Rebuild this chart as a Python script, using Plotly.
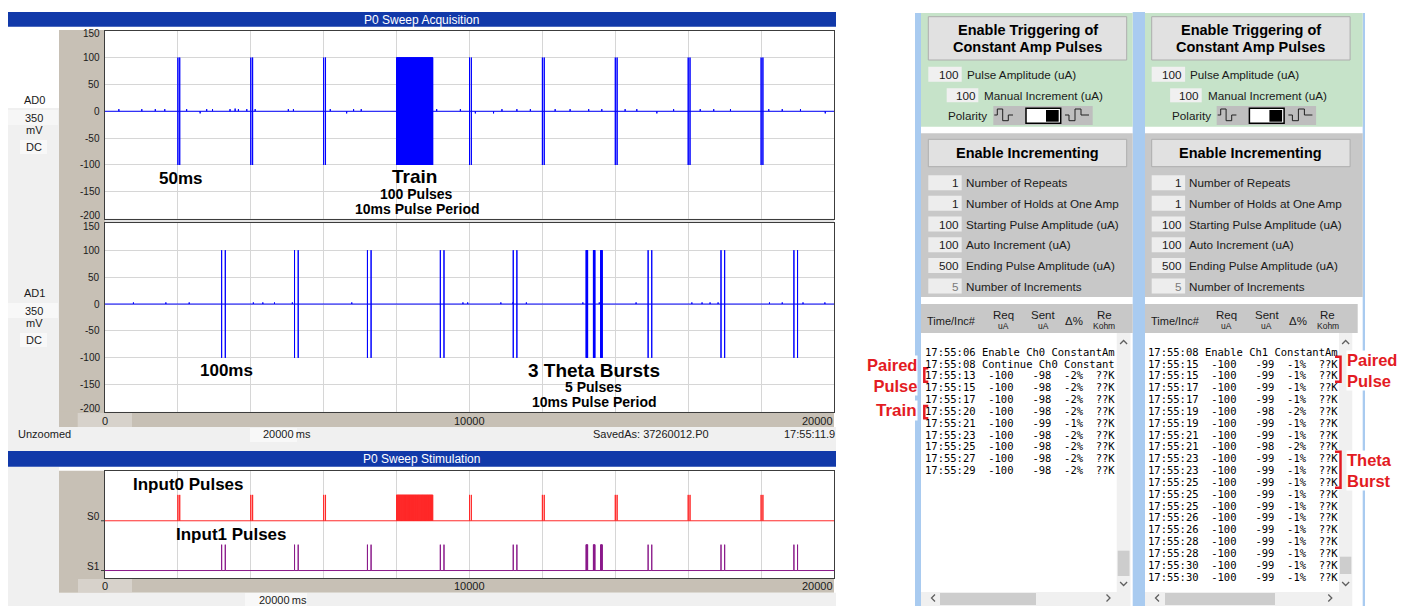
import plotly.graph_objects as go

W, H = 1414, 606
SANS = "Liberation Sans, Arial, sans-serif"
MONO = "DejaVu Sans Mono, monospace"

# ------------------------------------------------------------------
# Sweep timing (ms) and amplitudes (mV)
# ------------------------------------------------------------------
SWEEP_MS = 20000
grid_ms = list(range(0, SWEEP_MS + 1, 2000))
mv_ticks = [150, 100, 50, 0, -50, -100, -150, -200]
x_tick_vals = [0, 10000, 20000]
x_tick_text = ["0", "10000", "20000"]

pulse_peak = 100
pulse_trough = -100

# Input 0: paired pulses + one long train
ad0_pair_starts = [2000, 4000, 6000, 10000, 12000, 14000, 16000, 18000]
ad0_pair_gap = 50
ad0_train_start = 8000
ad0_train_pulses = 100
ad0_train_period = 10

# Input 1: paired pulses + theta bursts
ad1_pair_starts = [3200, 5200, 7200, 9200, 11200, 14900, 16900, 18900]
ad1_pair_gap = 100
ad1_theta_starts = [13200, 13400, 13600]
ad1_theta_pulses = 5
ad1_theta_period = 10

# small deflections on the AD0 / AD1 baselines
ad0_blip_t = [380, 1010, 1380, 1640, 2240, 2610, 2790, 2950, 3430, 3570, 3660,
              3890, 4120, 5030, 5170, 6180, 6630, 6820, 7030, 9100, 9750,
              10000, 10160, 10660, 10890, 11300, 11670, 12350, 12760, 13270,
              13630, 14270, 14590, 15140, 15600, 16330, 16700, 17160, 18210,
              18580, 19080, 19760]
ad0_blip_v = [4, 4, 4, 4, 4, -4, 4, 4, 4, 5, 4,
              4, 4, 4, 4, 4, -4, 4, 4, 4, 4,
              -50, -4, -4, 4, 4, 4, 4, 4, 4,
              4, 4, 4, -4, 4, 4, 4, 4, 4,
              4, 4, -4]
ad1_blip_t = [780, 1670, 2310, 4070, 4330, 4650, 5140, 6770, 9820, 9950,
              10860, 11190, 11560, 13110, 13560, 14570, 16100, 16380, 16600,
              16820, 18230, 18580, 19150, 19750]
ad1_blip_v = [3, 3, 3, 3, 3, 3, 3, 3, 3, 3,
              3, 3, 3, 3, 3, 3, 3, 3, 3,
              3, 3, 3, 3, 3]

# ------------------------------------------------------------------
# Stimulator settings / log entries for the two channels
# ------------------------------------------------------------------
pulse_amplitude_uA = [100, 100]
manual_increment_uA = [100, 100]
incr_labels = ["Number of Repeats", "Number of Holds at One Amp",
               "Starting Pulse Amplitude (uA)", "Auto Increment (uA)",
               "Ending Pulse Amplitude (uA)", "Number of Increments"]
incr_values = [[1, 1, 100, 100, 500, 5], [1, 1, 100, 100, 500, 5]]

ch0_messages = ["17:55:06 Enable Ch0 ConstantAm", "17:55:08 Continue Ch0 Constant"]
ch0_times = ["17:55:13", "17:55:15", "17:55:17", "17:55:20", "17:55:21",
             "17:55:23", "17:55:25", "17:55:27", "17:55:29"]
ch0_req = [-100, -100, -100, -100, -100, -100, -100, -100, -100]
ch0_sent = [-98, -98, -98, -98, -99, -98, -98, -98, -98]
ch0_delta = [-2, -2, -2, -2, -1, -2, -2, -2, -2]

ch1_messages = ["17:55:08 Enable Ch1 ConstantAm"]
ch1_times = ["17:55:15", "17:55:15", "17:55:17", "17:55:17", "17:55:19",
             "17:55:19", "17:55:21", "17:55:21", "17:55:23", "17:55:23",
             "17:55:25", "17:55:25", "17:55:25", "17:55:26", "17:55:26",
             "17:55:28", "17:55:28", "17:55:30", "17:55:30"]
ch1_req = [-100] * 19
ch1_sent = [-99, -99, -99, -99, -98, -99, -99, -98, -99, -99,
            -99, -99, -99, -99, -99, -99, -99, -99, -99]
ch1_delta = [-1, -1, -1, -1, -2, -1, -1, -2, -1, -1,
             -1, -1, -1, -1, -1, -1, -1, -1, -1]

# ------------------------------------------------------------------
# Colours
# ------------------------------------------------------------------
AD_BLUE = "#0000FF"
S0_RED = "#FF2A2A"
S1_PURPLE = "#8A1A8A"
GRID = "#D6D6D6"
FRAME = "#3C3C3C"
BEIGE = "#C7C0B5"
BEIGE_LIGHT = "#D7D2CB"
UI_GRAY = "#F0F0F0"
TITLE_BLUE = "#1139A9"
GREEN = "#C6E3C9"
PANEL_GRAY = "#C8C8C8"
BTN = "#E1E1E1"
BTN_EDGE = "#ADADAD"
FIELD = "#F0F0F0"
STRIP_BLUE = "#A9CBF0"
RED = "#E31B23"
TXT = "#1A1A1A"


def X(p):
    return p / W


def Y(p):
    return 1 - p / H


shapes = []
annotations = []


def box(x0, y0, x1, y1, fill, line=None, lw=1, layer="below"):
    shapes.append(dict(type="rect", xref="paper", yref="paper",
                       x0=X(x0), x1=X(x1), y0=Y(y1), y1=Y(y0),
                       fillcolor=fill, layer=layer,
                       line=dict(color=line if line else "rgba(0,0,0,0)",
                                 width=lw if line else 0)))


def poly(points, color, lw=1, layer="above"):
    path = "M " + " L ".join(f"{X(a):.6f},{Y(b):.6f}" for a, b in points)
    shapes.append(dict(type="path", xref="paper", yref="paper", path=path,
                       layer=layer, line=dict(color=color, width=lw)))


def label(x, y, text, size=11.5, color=TXT, anchor="center", bold=False,
          family=SANS, bg=None):
    annotations.append(dict(xref="paper", yref="paper", x=X(x), y=Y(y),
                            text=f"<b>{text}</b>" if bold else text,
                            showarrow=False, xanchor=anchor, yanchor="middle",
                            align=anchor if anchor != "center" else "center",
                            font=dict(size=size, color=color, family=family),
                            bgcolor=bg, borderpad=0))


# ------------------------------------------------------------------
# Traces built from the timing lists
# ------------------------------------------------------------------
def pulse_train(start, n, period):
    return [start + k * period for k in range(n)]


ad0_times = sorted(ad0_pair_starts + [s + ad0_pair_gap for s in ad0_pair_starts]
                   + pulse_train(ad0_train_start, ad0_train_pulses, ad0_train_period))
ad1_times = sorted(ad1_pair_starts + [s + ad1_pair_gap for s in ad1_pair_starts]
                   + [t for b in ad1_theta_starts
                      for t in pulse_train(b, ad1_theta_pulses, ad1_theta_period)])


def recording(times, blip_t, blip_v):
    events = [(t, (pulse_peak, pulse_trough)) for t in times]
    events += [(t, (v,)) for t, v in zip(blip_t, blip_v)]
    events.sort(key=lambda e: e[0])
    xs, ys = [0], [0]
    for t, vals in events:
        xs += [t] * (len(vals) + 2)
        ys += [0, *vals, 0]
    xs.append(SWEEP_MS)
    ys.append(0)
    return xs, ys


def stim_line(times, base, height):
    xs, ys = [0], [base]
    for t in times:
        xs += [t, t, t]
        ys += [base, base + height, base]
    xs.append(SWEEP_MS)
    ys.append(base)
    return xs, ys


fig = go.Figure()
ax, ay = recording(ad0_times, ad0_blip_t, ad0_blip_v)
fig.add_trace(go.Scatter(x=ax, y=ay, mode="lines", xaxis="x", yaxis="y",
                         line=dict(color=AD_BLUE, width=1, simplify=False),
                         hoverinfo="skip"))
bx, by = recording(ad1_times, ad1_blip_t, ad1_blip_v)
fig.add_trace(go.Scatter(x=bx, y=by, mode="lines", xaxis="x2", yaxis="y2",
                         line=dict(color=AD_BLUE, width=1, simplify=False),
                         hoverinfo="skip"))
sx, sy = stim_line(ad0_times, 1.0, 0.52)
fig.add_trace(go.Scatter(x=sx, y=sy, mode="lines", xaxis="x3", yaxis="y3",
                         line=dict(color=S0_RED, width=1, simplify=False),
                         hoverinfo="skip"))
tx, ty = stim_line(ad1_times, 0.0, 0.52)
fig.add_trace(go.Scatter(x=tx, y=ty, mode="lines", xaxis="x3", yaxis="y3",
                         line=dict(color=S1_PURPLE, width=1, simplify=False),
                         hoverinfo="skip"))

# ------------------------------------------------------------------
# Acquisition / stimulation window chrome
# ------------------------------------------------------------------
PL, PR = 105, 834          # plot area left / right (px)
box(8, 108, 59, 451, UI_GRAY)
box(8, 303, 58, 318, "#F8F8F8")
box(20, 333, 47, 347, "#F8F8F8")
box(8, 110, 58, 125, "#F6F6F6")
box(20, 140, 47, 154, "#F8F8F8")
box(59, 30, PL, 427, BEIGE)
box(59, 411.7, PR, 427, BEIGE)
box(77.7, 413, 132, 427, BEIGE_LIGHT)
box(8, 427, 836, 451, UI_GRAY)
box(250, 428, 297, 442, "#F8F8F8")
box(PL, 30.7, PR, 218.7, "white")
box(PL, 218.7, PR, 223.3, "#E2E2E2")
box(PL, 223.3, PR, 411.7, "white")
box(8, 12, 836, 26.7, TITLE_BLUE)
label(422, 19.5, "P0 Sweep Acquisition", 12, "white")

box(8, 467, 59, 606, UI_GRAY)
box(59, 470.7, PL, 592.7, BEIGE)
box(59, 578, PR, 592.7, BEIGE)
box(78, 579, 132, 592.7, BEIGE_LIGHT)
box(8, 592.7, 836, 606, UI_GRAY)
box(245, 593, 307, 606, "#F8F8F8")
box(PL, 471, PR, 578, "white")
box(8, 451, 836, 466.7, TITLE_BLUE)
label(422, 459, "P0 Sweep Stimulation", 12, "white")

for name, y0 in (("AD0", 100), ("AD1", 293.3)):
    label(34, y0, name, 11)
    label(34, y0 + 18, "350", 11)
    label(34, y0 + 30, "mV", 11)
    label(34, y0 + 46.5, "DC", 11)

label(17, 434.3, "Unzoomed", 11, anchor="left")
label(287, 434.3, "20000\u2009ms", 11)
label(651.3, 434.3, "SavedAs: 37260012.P0", 11)
label(835.5, 434.3, "17:55:11.9", 11, anchor="right")
label(283, 599.5, "20000\u2009ms", 11)

# mV tick labels on each recording axis (end labels kept inside the frame)
for yname in ("y", "y2"):
    for v in mv_ticks:
        shift = -3 if v == mv_ticks[0] else (3 if v == mv_ticks[-1] else 0)
        annotations.append(dict(xref="paper", yref=yname, x=X(101.5), y=v,
                                yshift=shift, text=str(v), showarrow=False,
                                xanchor="right", yanchor="middle", borderpad=0,
                                font=dict(size=10, color=TXT, family=SANS)))

# time tick labels placed on the axes' own scale
for axname, ypx in (("x2", 421), ("x3", 586.3)):
    for v, t in zip(x_tick_vals, x_tick_text):
        anchor = "right" if v == SWEEP_MS else "center"
        annotations.append(dict(xref=axname, yref="paper", x=v, y=Y(ypx),
                                text=t, showarrow=False, xanchor=anchor,
                                yanchor="middle", borderpad=0,
                                font=dict(size=11, color=TXT, family=SANS)))

# stimulation channel labels
for v, t in ((1.0, "S0"), (0.0, "S1")):
    annotations.append(dict(xref="paper", yref="y3", x=X(100.5), y=v, yshift=4,
                            text=t, showarrow=False, xanchor="right",
                            yanchor="middle", borderpad=0,
                            font=dict(size=10, color=TXT, family=SANS)))
    shapes.append(dict(type="line", xref="paper", yref="y3", x0=X(101), x1=X(PL),
                       y0=v, y1=v, line=dict(color=FRAME, width=1), layer="above"))

# chart captions built from the protocol values
label(180.7, 178.3, f"{ad0_pair_gap}ms", 17, "black", bold=True)
label(414, 176.7, "Train", 19, "black", bold=True)
label(416, 194, f"{ad0_train_pulses} Pulses", 14, "black", bold=True)
label(417, 209, f"{ad0_train_period}ms Pulse Period", 14, "black", bold=True)
label(226.2, 370.7, f"{ad1_pair_gap}ms", 17, "black", bold=True)
label(594, 370.7, f"{len(ad1_theta_starts)} Theta Bursts", 19, "black", bold=True)
label(593, 386.7, f"{ad1_theta_pulses} Pulses", 14, "black", bold=True)
label(594.2, 401.7, f"{ad1_theta_period}ms Pulse Period", 14, "black", bold=True)
label(188.3, 484.3, "Input0 Pulses", 17, "black", bold=True)
label(231.7, 534.3, "Input1 Pulses", 17, "black", bold=True)

# ------------------------------------------------------------------
# Stimulator control columns
# ------------------------------------------------------------------
box(915, 13, 921, 606, STRIP_BLUE)
box(1132.7, 12, 1145, 606, STRIP_BLUE)
box(1362.7, 13, 1365, 606, STRIP_BLUE)

col_dx = [0, 223.4]
col_x0 = [921, 1145]
col_x1 = [1132.7, 1362.7]
hdr_x1 = [1132.7, 1357.7]
vs_x = [(1116.7, 1130.5), (1339, 1352.3)]
vs_thumb = [(550.7, 576), (556.7, 574)]
hs_x0 = [921, 1145]
hs_thumb = [(940, 1036), (1165, 1275)]

logs = []
for msgs, times, req, sent, dl in ((ch0_messages, ch0_times, ch0_req, ch0_sent, ch0_delta),
                                   (ch1_messages, ch1_times, ch1_req, ch1_sent, ch1_delta)):
    rows = list(msgs)
    for t, r, s, d in zip(times, req, sent, dl):
        rows.append(f"{t}  {r:>4}   {s:>3}  {str(d) + '%':>3}  ??K")
    logs.append(rows)

for ci in range(2):
    dx = col_dx[ci]
    x0, x1 = col_x0[ci], col_x1[ci]
    box(x0, 13, x1, 126.7, GREEN)
    box(x0, 133.3, x1, 297, PANEL_GRAY)
    box(x0, 304, hdr_x1[ci], 333, PANEL_GRAY)

    # triggering block
    box(928.3 + dx, 16.7, 1126.7 + dx, 60, BTN, BTN_EDGE)
    label(1027.5 + dx, 30, "Enable Triggering of", 14.5, "black", bold=True)
    label(1027.5 + dx, 47, "Constant Amp Pulses", 14.5, "black", bold=True)
    box(928.3 + dx, 66.7, 961.7 + dx, 81.7, FIELD)
    label(960 + dx, 74, str(pulse_amplitude_uA[ci]), 11.7, anchor="right")
    label(966 + dx, 74, "Pulse Amplitude (uA)", 11.7, anchor="left")
    box(946.7 + dx, 88.3, 978.3 + dx, 102.3, FIELD)
    label(977 + dx, 95.3, str(manual_increment_uA[ci]), 11.7, anchor="right")
    label(983.3 + dx, 95.3, "Manual Increment (uA)", 11.7, anchor="left")
    label(947.3 + dx, 115.7, "Polarity", 11.7, anchor="left")

    # polarity switch
    box(993.3 + dx, 106, 1092.7 + dx, 125, "#BEBEBE")
    box(1026 + dx, 108.3, 1060.7 + dx, 123.3, "white", "black", 1.5)
    box(1046 + dx, 110, 1058.7 + dx, 121.7, "black")
    poly([(994.3 + dx, 115), (997.3 + dx, 115), (997.3 + dx, 109), (1002.7 + dx, 109),
          (1002.7 + dx, 120.7), (1008.3 + dx, 120.7), (1008.3 + dx, 115),
          (1013 + dx, 115)], "#202020", 1)
    poly([(1065 + dx, 115), (1069 + dx, 115), (1069 + dx, 120.7), (1075 + dx, 120.7),
          (1075 + dx, 109), (1081 + dx, 109), (1081 + dx, 115), (1089 + dx, 115)],
         "#202020", 1)

    # incrementing block
    box(928.3 + dx, 139.3, 1126.7 + dx, 166.7, BTN, BTN_EDGE)
    label(1027.5 + dx, 153, "Enable Incrementing", 14.5, "black", bold=True)
    for k, (v, name) in enumerate(zip(incr_values[ci], incr_labels)):
        yc = 182.7 + k * 20.67
        box(928.3 + dx, yc - 7.5, 961.7 + dx, yc + 7.5, "#EDEDED")
        last = k == len(incr_labels) - 1
        label(960 + dx, yc, str(v), 11.7, "#7A7A7A" if last else TXT, anchor="right")
        label(965 + dx, yc, name, 11.7, anchor="left")

    # log header
    label(951.7 + dx, 320.7, "Time/Inc#", 11)
    label(1003.3 + dx, 315, "Req", 11.5)
    label(1003.3 + dx, 325.7, "uA", 8.5)
    label(1043.3 + dx, 315, "Sent", 11.5)
    label(1043.3 + dx, 325.7, "uA", 8.5)
    label(1074.3 + dx, 320.7, "\u0394%", 11.5)
    label(1104.3 + dx, 315, "Re", 11.5)
    label(1104.3 + dx, 325.7, "Kohm", 8.5)

    # log text
    for i, row in enumerate(logs[ci]):
        label(923.5 + dx, 351.7 + i * 11.835, row.replace(" ", "\u00a0"), 10.5,
              "black", anchor="left", family=MONO)

    # scrollbars
    sx0, sx1 = vs_x[ci]
    box(sx0, 333, sx1, 592, UI_GRAY)
    box(sx0 + 1, vs_thumb[ci][0], sx1 - 1, vs_thumb[ci][1], "#CDCDCD")
    cx = (sx0 + sx1) / 2
    poly([(cx - 3.5, 344), (cx, 340.5), (cx + 3.5, 344)], "#606060", 1.3)
    poly([(cx - 3.5, 582), (cx, 585.5), (cx + 3.5, 582)], "#606060", 1.3)
    box(hs_x0[ci], 592, sx1, 606, UI_GRAY)
    box(hs_thumb[ci][0], 593, hs_thumb[ci][1], 605, "#CDCDCD")
    poly([(hs_x0[ci] + 14, 594.5), (hs_x0[ci] + 10.5, 598), (hs_x0[ci] + 14, 601.5)],
         "#606060", 1.3)
    poly([(sx1 - 24, 594.5), (sx1 - 20.5, 598), (sx1 - 24, 601.5)], "#606060", 1.3)

# red call-outs
label(917.5, 375.5, "Paired<br>Pulse", 16.5, RED, anchor="right", bold=True, bg="white")
label(917.5, 410.7, "Train", 17, RED, anchor="right", bold=True, bg="white")
poly([(928.3, 368.3), (924.3, 368.3), (924.3, 381.7), (928.3, 381.7)], RED, 2.5)
poly([(928.3, 406), (924.3, 406), (924.3, 418.3), (928.3, 418.3)], RED, 2.5)

label(1345.7, 370.7, "Paired<br>Pulse", 16.5, RED, anchor="left", bold=True, bg="white")
label(1345.7, 470.7, "Theta<br>Burst", 16.5, RED, anchor="left", bold=True, bg="white")
poly([(1335, 356.7), (1340.5, 356.7), (1340.5, 381.7), (1335, 381.7)], RED, 2.5)
poly([(1335, 451.7), (1340.5, 451.7), (1340.5, 487.7), (1335, 487.7)], RED, 2.5)

# ------------------------------------------------------------------
# Axes
# ------------------------------------------------------------------
def xax(anchor, grid=True):
    return dict(domain=[X(PL), X(PR)], range=[0, SWEEP_MS], anchor=anchor,
                tickvals=grid_ms, showticklabels=False, ticks="",
                showgrid=grid, gridcolor=GRID, gridwidth=1, zeroline=False,
                showline=True, mirror=True, linecolor=FRAME, linewidth=1,
                fixedrange=True)


def yax_mv(anchor, top, bottom):
    return dict(domain=[Y(bottom), Y(top)], range=[-200, 150], anchor=anchor,
                tickvals=mv_ticks, ticks="", showticklabels=False,
                showgrid=True, gridcolor=GRID, gridwidth=1, zeroline=False,
                showline=True, mirror=True, linecolor=FRAME, linewidth=1,
                fixedrange=True)


fig.update_layout(
    width=W, height=H, autosize=False,
    margin=dict(l=0, r=0, t=0, b=0, pad=0, autoexpand=False),
    paper_bgcolor="white", plot_bgcolor="rgba(0,0,0,0)",
    showlegend=False,
    xaxis=xax("y"),
    yaxis=yax_mv("x", 30.7, 218.7),
    xaxis2=xax("y2"),
    yaxis2=yax_mv("x2", 223.3, 411.7),
    xaxis3=xax("y3"),
    yaxis3=dict(domain=[Y(578), Y(471)], range=[-0.15, 2.0], anchor="x3",
                showticklabels=False, ticks="", showgrid=False, zeroline=False,
                showline=True, mirror=True, linecolor=FRAME, linewidth=1,
                fixedrange=True),
    shapes=shapes,
    annotations=annotations,
)

fig.write_html("out.html", config={"displayModeBar": False})
